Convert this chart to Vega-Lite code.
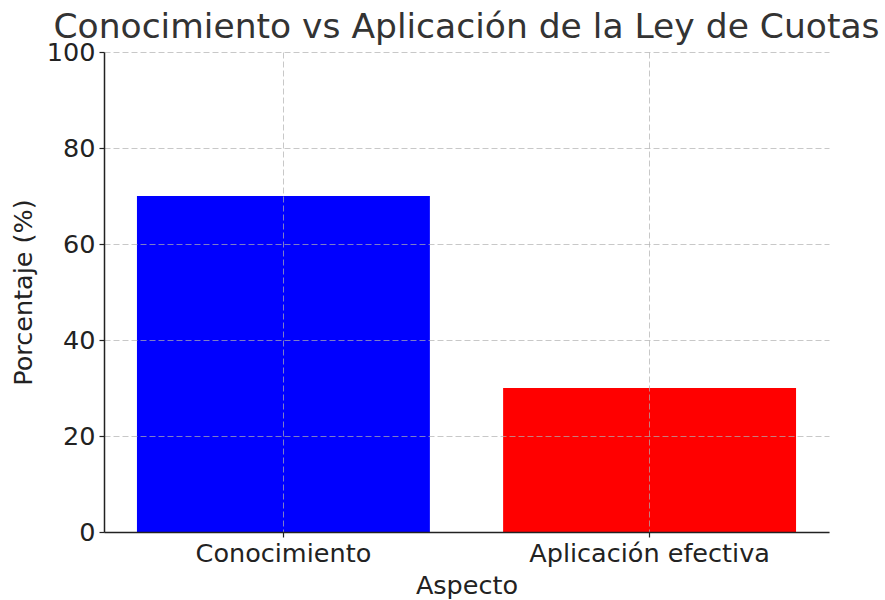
{
  "$schema": "https://vega.github.io/schema/vega-lite/v6.json",
  "width": 725,
  "height": 480,
  "autosize": {"type": "none"},
  "padding": {"left": 104, "top": 52, "right": 56, "bottom": 68},
  "background": "white",
  "title": {
    "text": "Conocimiento vs Aplicación de la Ley de Cuotas",
    "font": "DejaVu Sans",
    "fontSize": 34.5,
    "fontWeight": "normal",
    "color": "#333333",
    "anchor": "middle",
    "baseline": "alphabetic",
    "offset": -32
  },
  "data": {
    "values": [
      {"Aspecto": "Conocimiento", "Porcentaje": 70, "color": "blue"},
      {"Aspecto": "Aplicación efectiva", "Porcentaje": 30, "color": "red"}
    ]
  },
  "mark": {"type": "bar"},
  "encoding": {
    "x": {
      "field": "Aspecto",
      "type": "nominal",
      "sort": null,
      "title": "Aspecto",
      "scale": {"paddingInner": 0.2, "paddingOuter": 0.09},
      "axis": {
        "labelAngle": 0,
        "labelLimit": 0,
        "grid": true,
        "zindex": 1
      }
    },
    "y": {
      "field": "Porcentaje",
      "type": "quantitative",
      "title": "Porcentaje (%)",
      "scale": {"domain": [0, 100], "nice": false},
      "axis": {"values": [0, 20, 40, 60, 80, 100], "grid": true, "zindex": 1}
    },
    "color": {"field": "color", "type": "nominal", "scale": {"range": ["#0000ff", "#ff0000"], "domain": ["blue", "red"]}, "legend": null}
  },
  "config": {
    "view": {"stroke": null},
    "axis": {
      "labelFont": "DejaVu Sans",
      "labelFontSize": 25.5,
      "labelColor": "#222222",
      "titleFont": "DejaVu Sans",
      "titleFontSize": 25.5,
      "titleFontWeight": "normal",
      "titleColor": "#222222",
      "domainColor": "#222222",
      "domainWidth": 1.5,
      "tickColor": "#222222",
      "tickWidth": 1.2,
      "tickSize": 5,
      "labelPadding": 4,
      "gridColor": "#b0b0b0",
      "gridOpacity": 0.7,
      "gridDash": [6, 3],
      "gridWidth": 1
    },
    "axisX": {"titlePadding": 7},
    "axisY": {"titlePadding": 10}
  }
}
